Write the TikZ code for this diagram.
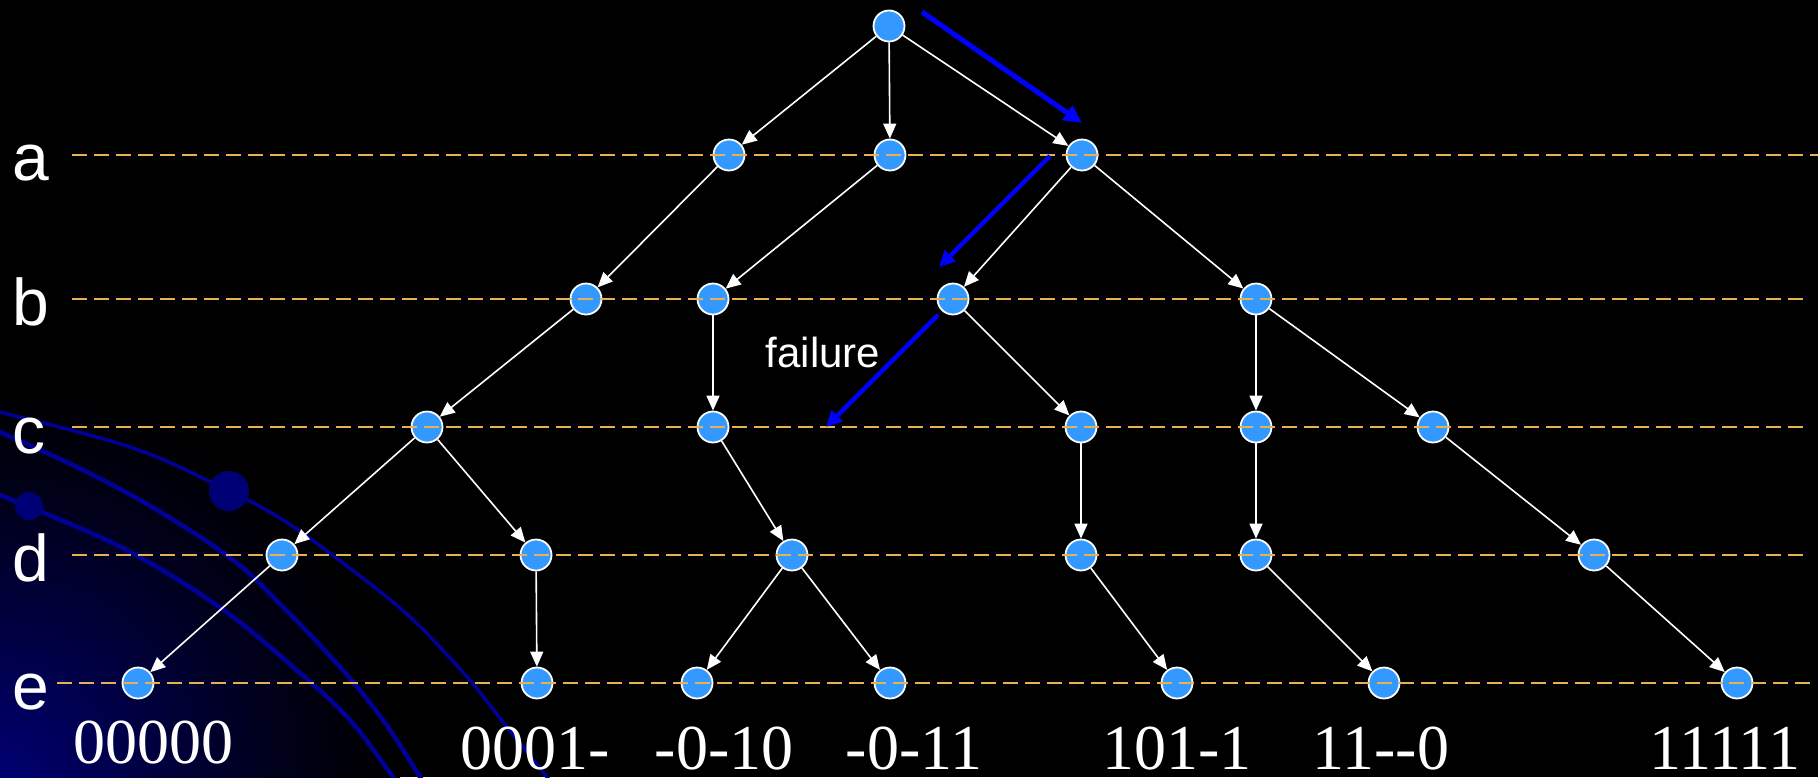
\documentclass[tikz,border=0pt]{standalone}
\usepackage{fontspec}
\setmainfont{Liberation Serif}
\newfontfamily\lsans{Liberation Sans}
\usetikzlibrary{arrows.meta}
\definecolor{nodeblue}{RGB}{51,153,255}
\definecolor{guide}{RGB}{232,176,84}
\definecolor{curveblue}{RGB}{0,0,150}
\definecolor{ballblue}{RGB}{0,0,118}
\definecolor{arrowblue}{RGB}{0,0,255}
\begin{document}
\begin{tikzpicture}[x=1pt,y=-1pt,
  vtx/.style={circle,draw=white,line width=1.8pt,fill=nodeblue,minimum size=31pt,inner sep=0pt},
  edge/.style={white,line width=1.6pt,-{Triangle[length=15pt,width=13pt]}},
  guideline/.style={guide,line width=2.2pt,dash pattern=on 15pt off 7pt},
  hint/.style={arrowblue,line width=5pt,-{Triangle[length=18pt,width=17pt]}},
  curve/.style={curveblue,line width=4.5pt},
  ball/.style={fill=ballblue},
  rowlabel/.style={font=\lsans\fontsize{66}{70}\selectfont,text=white,anchor=base west,inner sep=0pt},
  leaf/.style={font=\fontsize{64}{70}\selectfont,text=white,anchor=base,inner sep=0pt}]
\useasboundingbox (0,0) rectangle (1818,777);
\fill[black] (0,0) rectangle (1818,777);
% background decoration
\begin{scope}
\clip (0,0) rectangle (1818,777);
\foreach \i in {80,79,...,1}{
  \pgfmathtruncatemacro\v{115*(1-(\i*5-2.5)/400)^1.2}
  \definecolor{glowtmp}{RGB}{0,0,\v}
  \fill[glowtmp] (0,777) circle[radius=\i*5];
}
\draw[curve,line width=3.5pt] plot[smooth,tension=0.6] coordinates {(-10,409) (0,412) (133,448) (229,491) (283,520) (343,563) (410,617) (467,677) (507,727) (547,777) (560,795)};
\draw[curve] plot[smooth,tension=0.6] coordinates {(-10,428) (0,432) (83,470) (157,510) (233,560) (283,607) (340,667) (383,720) (420,777) (430,795)};
\draw[curve] plot[smooth,tension=0.6] coordinates {(-10,491) (0,495) (100,537) (167,573) (233,617) (300,673) (350,720) (393,777) (405,795)};
\fill[ball] (229,491) circle[radius=20];
\fill[ball] (29,506) circle[radius=14];
\end{scope}
% tree nodes
\node[vtx] (r) at (889,26) {};
\node[vtx] (a1) at (729,155) {};
\node[vtx] (a2) at (890,155) {};
\node[vtx] (a3) at (1082,155) {};
\node[vtx] (b1) at (586,299) {};
\node[vtx] (b2) at (713,299) {};
\node[vtx] (b3) at (953,299) {};
\node[vtx] (b4) at (1256,299) {};
\node[vtx] (c1) at (427,427) {};
\node[vtx] (c2) at (713,427) {};
\node[vtx] (c3) at (1081,427) {};
\node[vtx] (c4) at (1256,427) {};
\node[vtx] (c5) at (1433,427) {};
\node[vtx] (d1) at (282,555) {};
\node[vtx] (d2) at (536,555) {};
\node[vtx] (d3) at (792,555) {};
\node[vtx] (d4) at (1081,555) {};
\node[vtx] (d5) at (1256,555) {};
\node[vtx] (d6) at (1594,555) {};
\node[vtx] (e1) at (138,683) {};
\node[vtx] (e2) at (537,683) {};
\node[vtx] (e3) at (697,683) {};
\node[vtx] (e4) at (890,683) {};
\node[vtx] (e5) at (1177,683) {};
\node[vtx] (e6) at (1384,683) {};
\node[vtx] (e7) at (1737,683) {};
% edges
\foreach \s/\t in {r/a1,r/a2,r/a3,a1/b1,a2/b2,a3/b3,a3/b4,b1/c1,b2/c2,b3/c3,b4/c4,b4/c5,
  c1/d1,c1/d2,c2/d3,c3/d4,c4/d5,c5/d6,d1/e1,d2/e2,d3/e3,d3/e4,d4/e5,d5/e6,d6/e7}
  \draw[edge] (\s) -- (\t);
% guide lines
\coordinate (ga0) at (72,155);  \coordinate (ga1) at (1818,155);
\coordinate (gb0) at (72,299);  \coordinate (gb1) at (1805,299);
\coordinate (gc0) at (72,427);  \coordinate (gc1) at (1805,427);
\coordinate (gd0) at (72,555);  \coordinate (gd1) at (1805,555);
\coordinate (ge0) at (57,683);  \coordinate (ge1) at (1815,683);
\foreach \g in {a,b,c,d,e} \draw[guideline] (g\g0) -- (g\g1);
% blue hint arrows
\coordinate (h1s) at (922,12);   \coordinate (h1e) at (1082,123);
\coordinate (h2s) at (1050,156); \coordinate (h2e) at (939,267);
\coordinate (h3s) at (938,315);  \coordinate (h3e) at (826,427);
\draw[hint] (h1s) -- (h1e);
\draw[hint,line width=4.5pt,-{Triangle[length=16pt,width=15pt]}] (h2s) -- (h2e);
\draw[hint,line width=4.5pt,-{Triangle[length=16pt,width=15pt]}] (h3s) -- (h3e);
\node[font=\lsans\fontsize{42}{46}\selectfont,text=white,anchor=base,inner sep=0pt] (fail) at (823,367) {failure};
% row labels
\node[rowlabel] (la) at (12,180) {a};
\node[rowlabel] (lb) at (12,325) {b};
\node[rowlabel] (lc) at (12,453) {c};
\node[rowlabel] (ld) at (12,581) {d};
\node[rowlabel] (le) at (12,709) {e};
% leaf labels
\node[leaf] (t1) at (153,763) {00000};
\node[leaf] (t2) at (535,769) {0001-};
\node[leaf] (t3) at (724,769) {-0-10};
\node[leaf] (t4) at (914,769) {-0-11};
\node[leaf] (t5) at (1177,769) {101-1};
\node[leaf] (t6) at (1381,769) {11-{}-0};
\node[leaf] (t7) at (1725,769) {11111};
\end{tikzpicture}
\end{document}
